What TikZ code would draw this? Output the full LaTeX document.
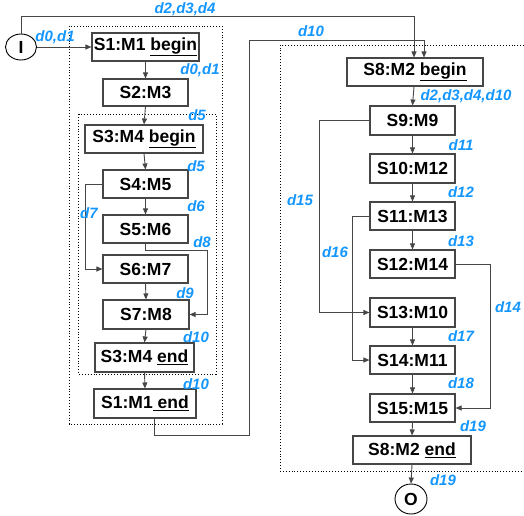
\documentclass[tikz,border=0pt]{standalone}
\usepackage{fontspec}
\setmainfont{Liberation Sans}
\usetikzlibrary{arrows.meta,shapes.geometric}
\definecolor{lblue}{RGB}{20,150,255}
\definecolor{lgray}{RGB}{70,70,70}
\begin{document}
\begin{tikzpicture}[x=1pt,y=-1pt,
  box/.style={draw=lgray,line width=1.1pt,minimum height=28pt,inner sep=0pt,font=\fontsize{17.5}{20}\selectfont\bfseries},
  term/.style={draw=black,ellipse,line width=0.9pt,inner sep=0pt,font=\fontsize{17.5}{20}\selectfont\bfseries},
  lab/.style={text=lblue,inner sep=0pt,font=\fontsize{15}{17}\selectfont\bfseries\itshape},
  arr/.style={draw=lgray,line width=0.9pt,-{Triangle[length=6pt,width=5pt]}},
  ln/.style={draw=lgray,line width=0.9pt},
  dotbox/.style={draw=black,line width=0.9pt,dotted}]
\useasboundingbox (0,0) rectangle (524,515);
% dotted frames
\draw[dotbox] (69,26) rectangle (222,424);
\draw[dotbox] (78,114) rectangle (216,374);
\draw[dotbox] (524,45) -- (280,45) -- (280,471) -- (524,471);
% terminals
\node[term,minimum width=31pt,minimum height=26pt] (I) at (21,47) {I};
\node[term,minimum width=32pt,minimum height=30pt] (O) at (411,499) {O};
% left column
\node[box,minimum width=107pt] (S1b) at (145.5,47) {S1:M1 \underline{begin}};
\node[box,minimum width=85pt,minimum height=27pt] (S2) at (145.5,92.5) {S2:M3};
\node[box,minimum width=118pt] (S3b) at (144,139) {S3:M4 \underline{begin}};
\node[box,minimum width=85pt] (S4) at (145.5,184) {S4:M5};
\node[box,minimum width=85pt] (S5) at (145.5,229) {S5:M6};
\node[box,minimum width=85pt] (S6) at (145.5,269) {S6:M7};
\node[box,minimum width=86pt,minimum height=29pt] (S7) at (146,314.5) {S7:M8};
\node[box,minimum width=99pt,minimum height=29pt] (S3e) at (144.5,357.5) {S3:M4 \underline{end}};
\node[box,minimum width=102pt,minimum height=29pt] (S1e) at (145,403.5) {S1:M1\underline{ end}};
% right column
\node[box,minimum width=136pt] (S8b) at (415,72) {S8:M2 \underline{begin}};
\node[box,minimum width=85pt,minimum height=29pt] (S9) at (412.5,120.5) {S9:M9};
\node[box,minimum width=85pt,minimum height=29pt] (S10) at (412.5,168.5) {S10:M12};
\node[box,minimum width=85pt] (S11) at (412.5,216) {S11:M13};
\node[box,minimum width=85pt] (S12) at (412.5,264) {S12:M14};
\node[box,minimum width=85pt,minimum height=29pt] (S13) at (412.5,312.5) {S13:M10};
\node[box,minimum width=85pt] (S14) at (412.5,360) {S14:M11};
\node[box,minimum width=85pt] (S15) at (412.5,408) {S15:M15};
\node[box,minimum width=118pt] (S8e) at (412,450) {S8:M2 \underline{end}};
% coordinates
\coordinate (t1) at (21,16);
\coordinate (r1) at (249,435);
\coordinate (r2) at (249,40);
\coordinate (c8) at (207,250);
% connectors left
\draw[arr] (I.east) -- (S1b.west);
\draw[arr] (I.north) -- (t1) -| ([xshift=-1pt]S8b.north);
\draw[arr] (S1b.south) -- (S2.north);
\draw[arr] (S2.south) -- (S3b.north);
\draw[arr] (S3b.south) -- (S4.north);
\draw[arr] (S4.south) -- (S5.north);
\draw[arr] (S6.south) -- (S7.north);
\draw[arr] (S7.south) -- (S3e.north);
\draw[arr] (S3e.south) -- (S1e.north);
\draw[arr] (S4.west) -- ++(-17,0) |- (S6.west);
\draw[arr] (S5.south) |- (c8) |- (S7.east);
\draw[arr] ([xshift=9pt]S1e.south) |- (r1) -- (r2) -| ([xshift=9pt]S8b.north);
% connectors right
\draw[arr] ([xshift=-1pt]S8b.south) -- (S9.north);
\draw[arr] (S9.south) -- (S10.north);
\draw[arr] (S10.south) -- (S11.north);
\draw[arr] (S11.south) -- (S12.north);
\draw[arr] (S13.south) -- (S14.north);
\draw[arr] (S14.south) -- (S15.north);
\draw[arr] (S15.south) -- (S8e.north);
\draw[arr] (S8e.south) -- (O.north);
\draw[arr] (S9.west) -- ++(-50,0) |- (S13.west);
\draw[arr] (S11.west) -- ++(-17,0) |- (S14.west);
\draw[arr] (S12.east) -- ++(35,0) |- (S15.east);
% labels
\node[lab] (l01a) at (55,37) {d0,d1};
\node[lab] (l234) at (185,9) {d2,d3,d4};
\node[lab] (l01b) at (200,70) {d0,d1};
\node[lab] (l5a) at (197,115) {d5};
\node[lab] (l5b) at (196,166) {d5};
\node[lab] (l6) at (196,206) {d6};
\node[lab] (l7) at (89,213) {d7};
\node[lab] (l8) at (202,242) {d8};
\node[lab] (l9) at (185,293) {d9};
\node[lab] (l10a) at (196,337) {d10};
\node[lab] (l10b) at (196,384) {d10};
\node[lab] (l10c) at (311,31) {d10};
\node[lab] (l2310) at (466,96) {d2,d3,d4,d10};
\node[lab] (l11) at (461,145) {d11};
\node[lab] (l12) at (461,192) {d12};
\node[lab] (l13) at (461,241) {d13};
\node[lab] (l15) at (300,200) {d15};
\node[lab] (l16) at (335,252) {d16};
\node[lab] (l14) at (508,307) {d14};
\node[lab] (l17) at (461,336) {d17};
\node[lab] (l18) at (461,383) {d18};
\node[lab] (l19a) at (473,426) {d19};
\node[lab] (l19b) at (443,480) {d19};
\end{tikzpicture}
\end{document}
